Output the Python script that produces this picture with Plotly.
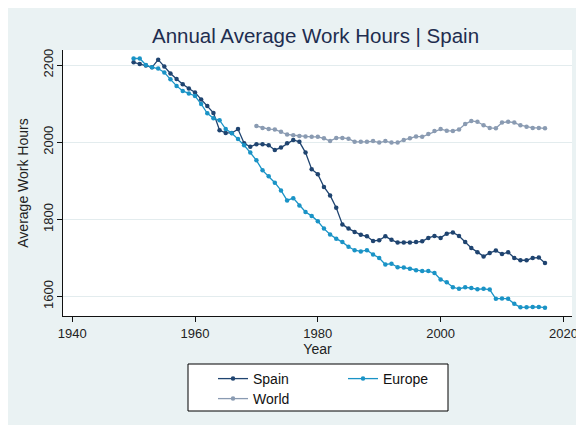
import plotly.graph_objects as go

years = list(range(1950, 2018))
world_years = list(range(1970, 2018))

spain = [2207, 2203, 2199, 2194, 2214, 2196, 2178, 2164, 2150, 2139,
         2129, 2111, 2094, 2076, 2031, 2024, 2024, 2034, 1997, 1988,
         1995, 1995, 1992, 1980, 1986, 1997, 2006, 2001, 1973, 1930,
         1917, 1884, 1862, 1830, 1787, 1776, 1767, 1760, 1756, 1744,
         1746, 1756, 1747, 1740, 1740, 1740, 1741, 1743, 1752, 1757,
         1752, 1763, 1766, 1757, 1741, 1726, 1715, 1704, 1713, 1719,
         1710, 1715, 1700, 1694, 1694, 1700, 1701, 1687]

europe = [2217, 2217, 2200, 2194, 2191, 2181, 2163, 2146, 2133, 2126,
          2120, 2099, 2075, 2062, 2057, 2034, 2023, 2008, 1992, 1973,
          1953, 1927, 1912, 1895, 1875, 1849, 1855, 1836, 1819, 1809,
          1795, 1776, 1761, 1750, 1741, 1729, 1720, 1717, 1720, 1709,
          1700, 1683, 1685, 1676, 1675, 1672, 1668, 1666, 1666, 1661,
          1644, 1637, 1624, 1620, 1624, 1622, 1619, 1620, 1618, 1594,
          1595, 1594, 1581, 1572, 1572, 1573, 1573, 1571]

world = [2042, 2037, 2034, 2033, 2027, 2020, 2018, 2016, 2015, 2014,
         2014, 2010, 2003, 2011, 2011, 2009, 2001, 2001, 2001, 2003,
         1999, 2003, 1999, 1999, 2006, 2010, 2015, 2014, 2021, 2029,
         2034, 2030, 2029, 2033, 2047, 2055, 2053, 2044, 2037, 2036,
         2051, 2053, 2051, 2044, 2040, 2037, 2037, 2036]

x_ticks = [1940, 1960, 1980, 2000, 2020]
y_ticks = [1600, 1800, 2000, 2200]

C_SPAIN = "#1F4470"
C_EUROPE = "#1A93C6"
C_WORLD = "#8A9BB2"
BG = "#EAF2F3"
FONT = "Liberation Sans, Arial, sans-serif"

W, H = 584, 425
OFF = 8  # page body margin: screen px = figure px + OFF
# plot area in screen pixels
L, R, T, B = 63, 572, 50, 316
pw, ph = R - L, B - T


def fx(px):
    return (px - L) / pw


def fy(py):
    return (B - py) / ph


fig = go.Figure()
fig.add_trace(go.Scatter(x=years, y=spain, name="Spain", mode="lines+markers",
                         line=dict(color=C_SPAIN, width=1.3),
                         marker=dict(color=C_SPAIN, size=4.5), legend="legend"))
fig.add_trace(go.Scatter(x=years, y=europe, name="Europe", mode="lines+markers",
                         line=dict(color=C_EUROPE, width=1.3),
                         marker=dict(color=C_EUROPE, size=4.5), legend="legend"))
fig.add_trace(go.Scatter(x=world_years, y=world, name="World", mode="lines+markers",
                         line=dict(color=C_WORLD, width=1.3),
                         marker=dict(color=C_WORLD, size=4.5), legend="legend2"))

shapes = [
    dict(type="rect", xref="paper", yref="paper",
         x0=fx(188), x1=fx(448), y0=fy(411), y1=fy(364),
         fillcolor="white", line=dict(color="black", width=1), layer="below"),
]

fig.update_layout(
    width=W, height=H,
    margin=dict(l=L - OFF, r=W - (R - OFF), t=T - OFF, b=H - (B - OFF), autoexpand=False),
    paper_bgcolor=BG, plot_bgcolor="white",
    font=dict(family=FONT, size=13, color="#222222"),
    title=dict(text="Annual Average Work Hours | Spain",
               x=fx(315.5), xref="paper", xanchor="center",
               y=1 - (36 - OFF) / H, yref="container", yanchor="middle",
               font=dict(family=FONT, size=20.5, color="#1E2D4F")),
    showlegend=True,
    legend=dict(orientation="h", x=fx(213), y=fy(363), xanchor="left", yanchor="top",
                entrywidth=85, bgcolor="rgba(0,0,0,0)", borderwidth=0,
                font=dict(family=FONT, size=14, color="#111111")),
    legend2=dict(orientation="h", x=fx(213), y=fy(383), xanchor="left", yanchor="top",
                 bgcolor="rgba(0,0,0,0)", borderwidth=0,
                 font=dict(family=FONT, size=14, color="#111111")),
    shapes=shapes,
)

fig.update_xaxes(range=[1938.5, 2021.4], tickvals=x_ticks, showgrid=False, zeroline=False,
                 showline=True, linecolor="#111111", linewidth=1,
                 ticks="outside", ticklen=5, tickcolor="#111111",
                 tickfont=dict(size=13, color="#222222"),
                 title=dict(text="Year", font=dict(size=14, color="#222222"), standoff=4))
fig.update_yaxes(range=[1549.5, 2239], tickvals=y_ticks, showgrid=True, gridcolor="#E3ECEE",
                 gridwidth=1, zeroline=False,
                 showline=True, linecolor="#111111", linewidth=1,
                 ticks="outside", ticklen=5, tickcolor="#111111", tickangle=-90,
                 ticklabelstandoff=-1,
                 tickfont=dict(size=13, color="#222222"),
                 title=dict(text="Average Work Hours", font=dict(size=14, color="#222222"),
                            standoff=8))

fig.write_html("out.html")
